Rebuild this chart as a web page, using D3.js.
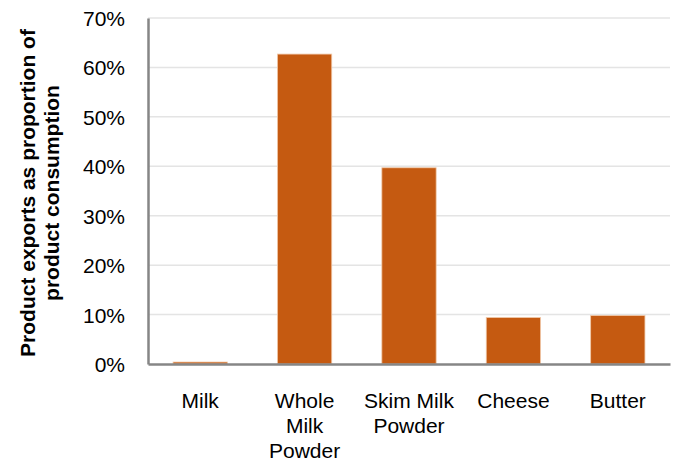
<!DOCTYPE html>
<html>
<head>
<meta charset="utf-8">
<script src="https://cdn.jsdelivr.net/npm/d3@7"></script>
<style>
  body { margin: 0; background: #fff; }
  text { font-family: "Liberation Sans", Arial, sans-serif; fill: #000; }
</style>
</head>
<body>
<div id="chart"></div>
<script>
// Chart data
var categories = ["Milk", "Whole Milk Powder", "Skim Milk Powder", "Cheese", "Butter"];
var labelLines = [["Milk"], ["Whole", "Milk", "Powder"], ["Skim Milk", "Powder"], ["Cheese"], ["Butter"]];
var shares = [0.004, 0.627, 0.397, 0.094, 0.098];
var yTicks = [0, 0.1, 0.2, 0.3, 0.4, 0.5, 0.6, 0.7];

var svgWidth = 676;
var svgHeight = 463;
var margin = { top: 18, right: 6, bottom: 99, left: 148 };
var width = svgWidth - margin.left - margin.right;
var height = svgHeight - margin.top - margin.bottom;

var svg = d3.select("#chart").append("svg")
  .attr("width", svgWidth)
  .attr("height", svgHeight);

var g = svg.append("g")
  .attr("transform", `translate(${margin.left}, ${margin.top})`);

var x = d3.scaleBand()
  .domain(categories)
  .range([0, width])
  .paddingInner(0.48)
  .paddingOuter(0.24);

var y = d3.scaleLinear()
  .domain([0, 0.7])
  .range([height, 0]);

// gridlines
g.selectAll(".grid")
  .data(yTicks.slice(1))
  .enter()
  .append("line")
  .attr("x1", 0)
  .attr("x2", width)
  .attr("y1", d => y(d))
  .attr("y2", d => y(d))
  .attr("stroke", "#e4e4e4")
  .attr("stroke-width", 1.5);

// bars
g.selectAll(".bar")
  .data(shares)
  .enter()
  .append("rect")
  .attr("x", (d, i) => x(categories[i]))
  .attr("y", d => y(d))
  .attr("width", x.bandwidth())
  .attr("height", d => height - y(d))
  .attr("fill", "#c55a11")
  .attr("stroke", "#f0c8a8")
  .attr("stroke-width", 0.8);

// y axis
var yAxis = g.append("g")
  .call(d3.axisLeft(y).tickValues(yTicks).tickFormat(d3.format(".0%")).tickSize(0).tickPadding(23));
yAxis.select(".domain").attr("stroke", "#868686").attr("stroke-width", 2.5);
yAxis.selectAll("text").style("font-size", "21px").attr("dy", "0.36em");

// x axis
var xAxis = g.append("g")
  .attr("transform", `translate(0, ${height})`)
  .call(d3.axisBottom(x).tickSize(0).tickFormat(""));
xAxis.select(".domain").attr("stroke", "#868686").attr("stroke-width", 2.5);

xAxis.selectAll(".tick").each(function (d, i) {
  var t = d3.select(this).append("text")
    .attr("text-anchor", "middle")
    .style("font-size", "21px");
  labelLines[i].forEach(function (line, j) {
    t.append("tspan")
      .attr("x", 0)
      .attr("y", 44 + j * 25)
      .text(line);
  });
});

// y axis title
svg.append("text")
  .attr("transform", "translate(35, 193) rotate(-90)")
  .attr("text-anchor", "middle")
  .style("font-size", "21px")
  .style("font-weight", "bold")
  .selectAll("tspan")
  .data(["Product exports as proportion of", "product consumption"])
  .enter()
  .append("tspan")
  .attr("x", 0)
  .attr("dy", (d, i) => i === 0 ? 0 : 24)
  .text(d => d);
</script>
</body>
</html>
